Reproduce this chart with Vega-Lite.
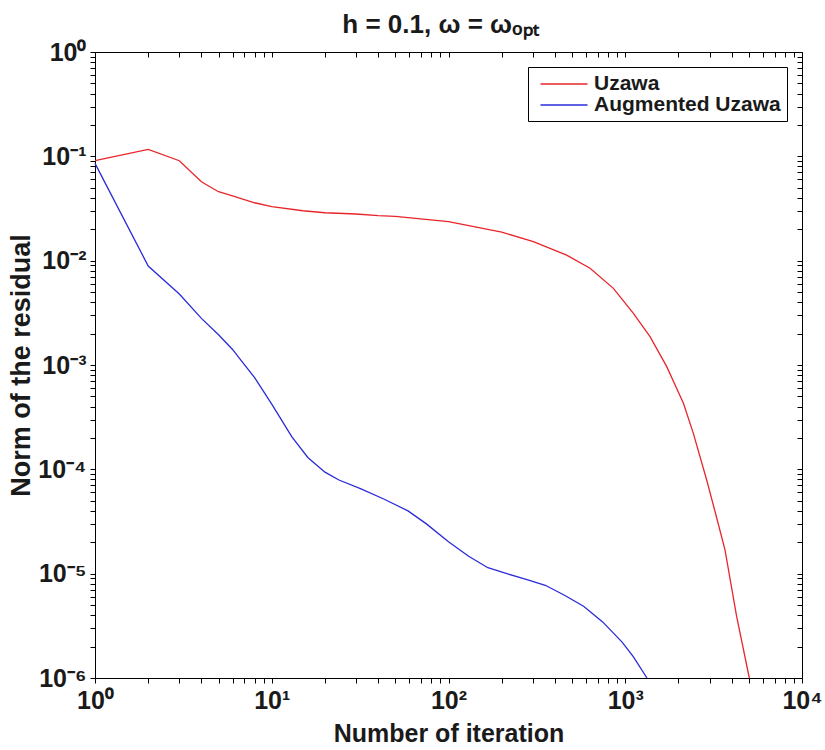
{
  "$schema": "https://vega.github.io/schema/vega-lite/v6.json",
  "width": 707,
  "height": 626,
  "autosize": {"type": "none"},
  "padding": {"left": 95, "top": 52, "right": 23, "bottom": 72},
  "background": "white",
  "config": {"view": {"stroke": "black", "strokeWidth": 1}, "font": "Liberation Sans", "axis": {"ticks": true, "tickColor": "black", "tickOpacity": 1}},
  "title": {"text": "h = 0.1, ω = ωₒₚₜ", "fontSize": 26, "fontWeight": "bold", "font": "Liberation Sans", "color": "#1a1a1a", "anchor": "middle", "offset": 2, "dx": -8},
  "data": {"values": [
    {"method": "Uzawa", "iteration": 1, "residual": 0.0908},
    {"method": "Uzawa", "iteration": 2, "residual": 0.1167},
    {"method": "Uzawa", "iteration": 3, "residual": 0.0908},
    {"method": "Uzawa", "iteration": 4, "residual": 0.0571},
    {"method": "Uzawa", "iteration": 5, "residual": 0.0458},
    {"method": "Uzawa", "iteration": 6, "residual": 0.0417},
    {"method": "Uzawa", "iteration": 8, "residual": 0.0359},
    {"method": "Uzawa", "iteration": 10, "residual": 0.0329},
    {"method": "Uzawa", "iteration": 15, "residual": 0.0301},
    {"method": "Uzawa", "iteration": 20, "residual": 0.0288},
    {"method": "Uzawa", "iteration": 30, "residual": 0.0280},
    {"method": "Uzawa", "iteration": 40, "residual": 0.0270},
    {"method": "Uzawa", "iteration": 50, "residual": 0.0266},
    {"method": "Uzawa", "iteration": 100, "residual": 0.0237},
    {"method": "Uzawa", "iteration": 200, "residual": 0.0188},
    {"method": "Uzawa", "iteration": 302, "residual": 0.0152},
    {"method": "Uzawa", "iteration": 466, "residual": 0.0113},
    {"method": "Uzawa", "iteration": 632, "residual": 0.00845},
    {"method": "Uzawa", "iteration": 857, "residual": 0.00543},
    {"method": "Uzawa", "iteration": 1112, "residual": 0.00313},
    {"method": "Uzawa", "iteration": 1381, "residual": 0.00187},
    {"method": "Uzawa", "iteration": 1717, "residual": 0.000964},
    {"method": "Uzawa", "iteration": 2134, "residual": 0.000429},
    {"method": "Uzawa", "iteration": 2428, "residual": 0.000221},
    {"method": "Uzawa", "iteration": 2889, "residual": 0.000079},
    {"method": "Uzawa", "iteration": 3260, "residual": 0.0000365},
    {"method": "Uzawa", "iteration": 3667, "residual": 0.0000169},
    {"method": "Uzawa", "iteration": 4270, "residual": 0.00000387},
    {"method": "Uzawa", "iteration": 5035, "residual": 0.000001},
    {"method": "Augmented Uzawa", "iteration": 1, "residual": 0.0857},
    {"method": "Augmented Uzawa", "iteration": 2, "residual": 0.00889},
    {"method": "Augmented Uzawa", "iteration": 3, "residual": 0.00479},
    {"method": "Augmented Uzawa", "iteration": 4, "residual": 0.0028},
    {"method": "Augmented Uzawa", "iteration": 5, "residual": 0.00195},
    {"method": "Augmented Uzawa", "iteration": 6, "residual": 0.00141},
    {"method": "Augmented Uzawa", "iteration": 7, "residual": 0.00101},
    {"method": "Augmented Uzawa", "iteration": 8, "residual": 0.000757},
    {"method": "Augmented Uzawa", "iteration": 10, "residual": 0.000421},
    {"method": "Augmented Uzawa", "iteration": 13, "residual": 0.000205},
    {"method": "Augmented Uzawa", "iteration": 16, "residual": 0.00013},
    {"method": "Augmented Uzawa", "iteration": 20, "residual": 0.000094},
    {"method": "Augmented Uzawa", "iteration": 24, "residual": 0.000079},
    {"method": "Augmented Uzawa", "iteration": 32, "residual": 0.000065},
    {"method": "Augmented Uzawa", "iteration": 43, "residual": 0.000052},
    {"method": "Augmented Uzawa", "iteration": 59, "residual": 0.00004},
    {"method": "Augmented Uzawa", "iteration": 75, "residual": 0.00003},
    {"method": "Augmented Uzawa", "iteration": 100, "residual": 0.0000202},
    {"method": "Augmented Uzawa", "iteration": 130, "residual": 0.0000147},
    {"method": "Augmented Uzawa", "iteration": 167, "residual": 0.0000114},
    {"method": "Augmented Uzawa", "iteration": 214, "residual": 0.00001},
    {"method": "Augmented Uzawa", "iteration": 275, "residual": 0.00000883},
    {"method": "Augmented Uzawa", "iteration": 353, "residual": 0.00000774},
    {"method": "Augmented Uzawa", "iteration": 453, "residual": 0.00000621},
    {"method": "Augmented Uzawa", "iteration": 581, "residual": 0.00000488},
    {"method": "Augmented Uzawa", "iteration": 745, "residual": 0.00000345},
    {"method": "Augmented Uzawa", "iteration": 957, "residual": 0.00000222},
    {"method": "Augmented Uzawa", "iteration": 1110, "residual": 0.0000016},
    {"method": "Augmented Uzawa", "iteration": 1327, "residual": 0.000001}
  ]},
  "layer": [
    {
      "mark": {"type": "line", "strokeWidth": 1.3},
      "encoding": {
        "x": {
          "field": "iteration", "type": "quantitative",
          "scale": {"type": "log", "domain": [1, 10000], "nice": false},
          "axis": {
            "orient": "bottom",
            "title": "Number of iteration",
            "titleFont": "Liberation Sans", "titleFontSize": 25, "titleFontWeight": "bold", "titleColor": "#1a1a1a", "titlePadding": 8,
            "values": [1,2,3,4,5,6,7,8,9,10,20,30,40,50,60,70,80,90,100,200,300,400,500,600,700,800,900,1000,2000,3000,4000,5000,6000,7000,8000,9000,10000],
            "labelExpr": "abs(log(datum.value)/LN10 - round(log(datum.value)/LN10)) > 0.001 ? '' : ['10⁰','10¹','10²','10³','10⁴'][round(log(datum.value)/LN10)]",
            "labelFont": "Liberation Sans", "labelFontSize": 25, "labelFontWeight": "bold", "labelColor": "#1a1a1a",
            "labelOverlap": false, "labelFlush": false, "labelPadding": 5,
            "grid": false, "domain": false, "ticks": true, "tickSize": 5, "tickWidth": 1, "tickColor": "black"
          }
        },
        "y": {
          "field": "residual", "type": "quantitative",
          "scale": {"type": "log", "domain": [0.000001, 1], "nice": false},
          "axis": {
            "orient": "left",
            "title": "Norm of the residual",
            "titleFont": "Liberation Sans", "titleFontSize": 27, "titleFontWeight": "bold", "titleColor": "#1a1a1a", "titlePadding": 2,
            "values": [0.000001,0.000002,0.000003,0.000004,0.000005,0.000006,0.000007,0.000008,0.000009,0.00001,0.00002,0.00003,0.00004,0.00005,0.00006,0.00007,0.00008,0.00009,0.0001,0.0002,0.0003,0.0004,0.0005,0.0006,0.0007,0.0008,0.0009,0.001,0.002,0.003,0.004,0.005,0.006,0.007,0.008,0.009,0.01,0.02,0.03,0.04,0.05,0.06,0.07,0.08,0.09,0.1,0.2,0.3,0.4,0.5,0.6,0.7,0.8,0.9,1],
            "labelExpr": "abs(log(datum.value)/LN10 - round(log(datum.value)/LN10)) > 0.001 ? '' : ['10⁰','10⁻¹','10⁻²','10⁻³','10⁻⁴','10⁻⁵','10⁻⁶'][-round(log(datum.value)/LN10)]",
            "labelFont": "Liberation Sans", "labelFontSize": 25, "labelFontWeight": "bold", "labelColor": "#1a1a1a",
            "labelOverlap": false, "labelFlush": false, "labelPadding": 4,
            "grid": false, "domain": false, "ticks": true, "tickSize": 5, "tickWidth": 1, "tickColor": "black"
          }
        },
        "color": {
          "field": "method", "type": "nominal",
          "scale": {"domain": ["Uzawa", "Augmented Uzawa"], "range": ["#e8252b", "#2b2bd9"]},
          "legend": {
            "title": null, "orient": "top-right", "offset": 15,
            "symbolType": "M-2.35,0H2.35", "symbolSize": 400, "symbolStrokeWidth": 1.3, "symbolOffset": 19,
            "labelFont": "Liberation Sans", "labelFontSize": 21, "labelFontWeight": "bold", "labelColor": "#1a1a1a", "labelLimit": 400,
            "labelOffset": 19, "strokeColor": "black", "fillColor": "white", "padding": 6, "rowPadding": -1, "cornerRadius": 0
          }
        }
      }
    },
    {
      "mark": {"type": "point", "opacity": 0},
      "encoding": {
        "x": {
          "field": "iteration", "type": "quantitative",
          "axis": {"orient": "top", "title": null, "labels": false, "domain": false, "grid": false,
            "values": [1,2,3,4,5,6,7,8,9,10,20,30,40,50,60,70,80,90,100,200,300,400,500,600,700,800,900,1000,2000,3000,4000,5000,6000,7000,8000,9000,10000],
            "ticks": true, "tickSize": 5, "offset": -5, "tickColor": "black", "tickWidth": 1}
        },
        "y": {
          "field": "residual", "type": "quantitative",
          "axis": {"orient": "right", "title": null, "labels": false, "domain": false, "grid": false,
            "values": [0.000001,0.000002,0.000003,0.000004,0.000005,0.000006,0.000007,0.000008,0.000009,0.00001,0.00002,0.00003,0.00004,0.00005,0.00006,0.00007,0.00008,0.00009,0.0001,0.0002,0.0003,0.0004,0.0005,0.0006,0.0007,0.0008,0.0009,0.001,0.002,0.003,0.004,0.005,0.006,0.007,0.008,0.009,0.01,0.02,0.03,0.04,0.05,0.06,0.07,0.08,0.09,0.1,0.2,0.3,0.4,0.5,0.6,0.7,0.8,0.9,1],
            "ticks": true, "tickSize": 5, "offset": -5, "tickColor": "black", "tickWidth": 1}
        }
      }
    }
  ],
  "resolve": {"axis": {"x": "independent", "y": "independent"}}
}
